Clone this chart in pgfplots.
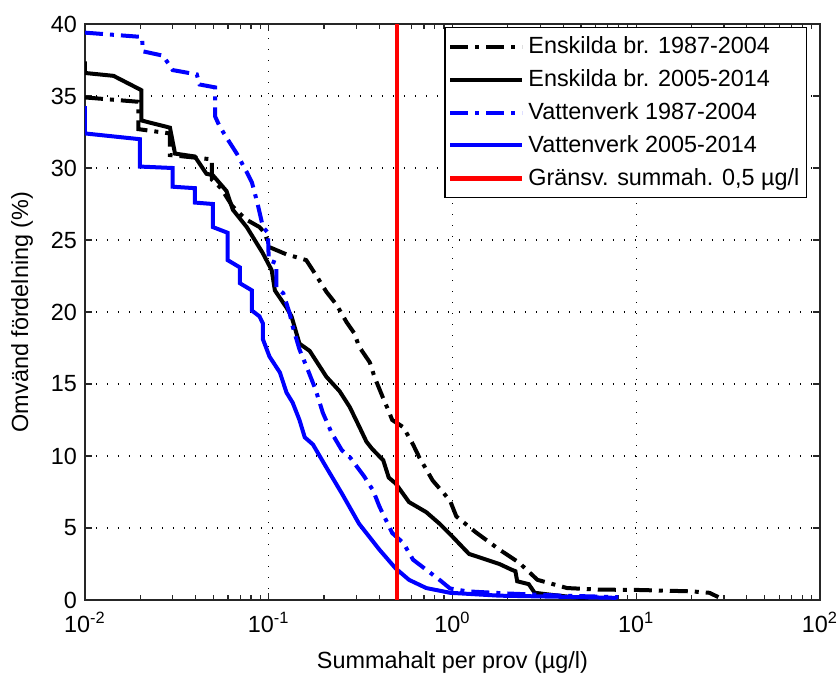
\documentclass[border=0pt]{standalone}
\usepackage{fontspec}
\setmainfont{Liberation Sans}
\usepackage{pgfplots}
\pgfplotsset{compat=1.18}
\newcommand{\fs}{\fontsize{11.7}{14}\selectfont}
\begin{document}
\fs
\begin{tikzpicture}
\useasboundingbox (-42.5pt,-37.5pt) rectangle (376pt,300pt);
\begin{axis}[
  at={(0,0)}, anchor=south west,
  scale only axis, width=367.5pt, height=288pt,
  xmode=log, xmin=0.01, xmax=100, ymin=0, ymax=40,
  ytick={0,5,...,40},
  xtick={0.01,0.1,1,10,100},
  xticklabels={10\textsuperscript{-2},10\textsuperscript{-1},10\textsuperscript{0},10\textsuperscript{1},10\textsuperscript{2}},
  /pgf/number format/assume math mode=true,
  tick label style={font=\fs},
  xticklabel style={yshift=-2pt},
  label style={font=\fs},
  xlabel={Summahalt per prov (µg/l)},
  ylabel={Omvänd fördelning (\%)},
  xlabel style={at={(axis description cs:0.5,-0.109)}, anchor=center},
  ylabel style={at={(axis description cs:-0.0857,0.5)}, anchor=center},
  grid=major,
  major grid style={black, line width=0.7pt, dash pattern=on 0.7pt off 4.8pt},
  axis line style={black!85, line width=0.6pt},
  tick style={black!85, line width=0.6pt},
  major tick length=3.5pt, minor tick length=2.5pt,
  legend style={at={(axis description cs:1,1)}, anchor=north east, xshift=-6.5pt, yshift=-1.5pt,
    draw=black, line width=0.6pt, font=\fs, cells={anchor=west}, inner xsep=1.5pt, inner ysep=2.5pt, row sep=2.2pt,
    legend image code/.code={\draw[#1] (0pt,0pt) -- (36pt,0pt);}},
]
\addplot[black, line width=2pt, dash pattern=on 9pt off 3.5pt on 2pt off 3.5pt] coordinates {
(0.01,34.9) (0.0195,34.6) (0.0195,32.7) (0.029,32.4) (0.029,30.9) (0.049,30.6) (0.049,29.2)
(0.055,28.6) (0.063,27.4) (0.07,26.8) (0.0759,26.4) (0.089,25.9) (0.095,25.5) (0.101,24.5)
(0.125,24.0) (0.142,23.8) (0.16,23.6) (0.18,22.6) (0.206,21.4) (0.234,20.5) (0.265,19.3)
(0.293,18.5) (0.31,17.6) (0.355,16.5) (0.376,15.5) (0.42,14.0) (0.44,13.4) (0.47,12.5)
(0.54,12.0) (0.61,10.8) (0.66,9.9) (0.78,8.3) (0.97,6.9) (1.05,5.8) (1.34,4.7) (1.8,3.5)
(2.3,2.6) (2.9,1.4) (4.2,0.83) (6.3,0.72) (10,0.7) (20,0.6) (25,0.5) (28,0.2)
};
\addlegendentry{Enskilda br. 1987-2004}
\addplot[black, line width=2pt] coordinates {
(0.01,37.4) (0.01,36.6) (0.0143,36.4) (0.0203,35.4) (0.0203,33.3) (0.029,32.8) (0.0309,31.0)
(0.0396,30.8) (0.0458,29.6) (0.0496,29.5) (0.0589,28.4) (0.0638,27.1) (0.0759,25.9)
(0.0927,24.1) (0.1038,22.9) (0.108,21.5) (0.125,20.3) (0.133,19.7) (0.147,17.8) (0.167,17.3)
(0.206,15.5) (0.243,14.5) (0.276,13.4) (0.312,12.0) (0.34,11.0) (0.365,10.5) (0.42,9.7)
(0.45,8.5) (0.49,8.1) (0.58,6.8) (0.72,6.1) (0.85,5.3) (1.0,4.4) (1.23,3.2) (1.45,2.9)
(1.8,2.5) (2.1,2.1) (2.2,2.0) (2.25,1.3) (2.6,1.1) (2.8,0.5) (3.5,0.35) (4.9,0.15) (5.5,0.1)
};
\addlegendentry{Enskilda br. 2005-2014}
\addplot[blue, line width=2pt, dash pattern=on 9pt off 3.5pt on 2pt off 3.5pt] coordinates {
(0.01,39.4) (0.0204,39.1) (0.0207,38.1) (0.0266,37.8) (0.030,36.8) (0.0406,36.5) (0.042,35.8)
(0.051,35.6) (0.051,33.6) (0.054,32.9) (0.059,32.1) (0.067,31.0) (0.076,29.7) (0.081,29.0)
(0.087,27.5) (0.093,25.9) (0.099,25.5) (0.1,23.6) (0.11,23.4) (0.11,21.7) (0.12,21.3)
(0.13,19.9) (0.135,19.0) (0.147,17.4) (0.163,16.0) (0.18,14.6) (0.197,13.0) (0.22,11.6)
(0.25,10.4) (0.277,9.9) (0.33,8.6) (0.37,7.6) (0.40,6.5) (0.47,4.65) (0.54,3.96) (0.61,2.8)
(0.72,2.1) (0.85,1.4) (0.97,0.8) (1.2,0.6) (2,0.45) (4,0.3) (8,0.2)
};
\addlegendentry{Vattenverk 1987-2004}
\addplot[blue, line width=2pt] coordinates {
(0.01,34.3) (0.01,32.4) (0.0199,32.0) (0.0199,30.1) (0.030,30.0) (0.030,28.7) (0.0396,28.6)
(0.0396,27.6) (0.0496,27.5) (0.0496,25.9) (0.0598,25.5) (0.0598,23.6) (0.0696,23.1)
(0.0696,22.0) (0.081,21.5) (0.081,20.1) (0.089,19.7) (0.093,19.2) (0.093,18.1) (0.101,16.9)
(0.115,15.8) (0.125,14.4) (0.135,13.7) (0.147,12.5) (0.157,11.3) (0.174,10.8) (0.206,9.2)
(0.25,7.4) (0.31,5.3) (0.40,3.5) (0.49,2.2) (0.58,1.4) (0.72,0.83) (0.97,0.5) (1.8,0.3)
(4,0.22) (7.8,0.15)
};
\addlegendentry{Vattenverk 2005-2014}
\addplot[red, line width=2.2pt] coordinates {(0.5,0) (0.5,40)};
\addlegendentry{Gränsv. summah. 0,5 µg/l}
\end{axis}
\end{tikzpicture}
\end{document}
